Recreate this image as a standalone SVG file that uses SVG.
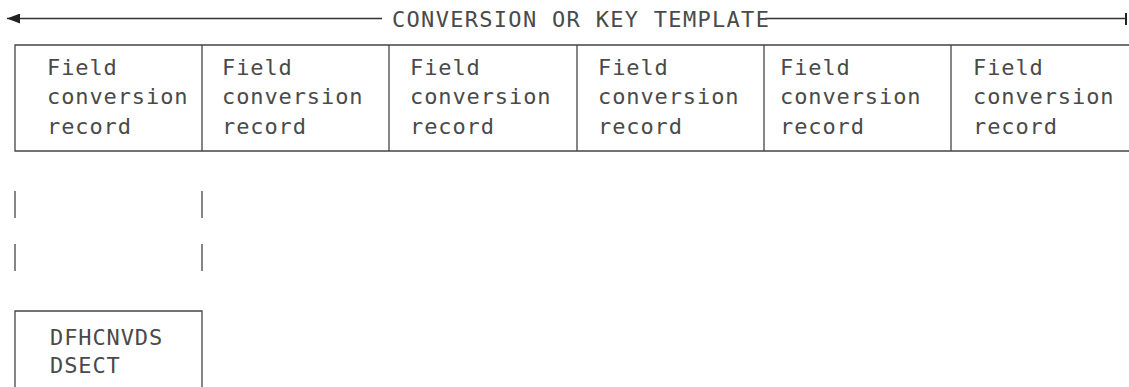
<svg xmlns="http://www.w3.org/2000/svg" width="1129" height="387" viewBox="0 0 1129 387">
<style>
.t{font-family:"DejaVu Sans Mono","Liberation Mono",monospace;font-size:22px;fill:#4a4a4a;letter-spacing:0.9px}
.tt{letter-spacing:1.3px}
.ln{stroke:#333;stroke-width:1.3;fill:none}
.bx{stroke:#444;stroke-width:1.3;fill:none}
</style>
<defs>
<marker id="ah" viewBox="0 0 13 10" refX="0" refY="5" markerWidth="13" markerHeight="10" markerUnits="userSpaceOnUse" orient="auto">
<path d="M0,5 L13,0 L13,10 Z" fill="#222"/>
</marker>
</defs>
<g id="connectors">
<line class="ln" x1="7" y1="18.5" x2="382" y2="18.5" marker-start="url(#ah)"/>
<line class="ln" x1="765" y1="18.5" x2="1126" y2="18.5"/>
<line stroke="#222" stroke-width="2" x1="1126" y1="13" x2="1126" y2="25"/>
<line class="bx" x1="15" y1="191" x2="15" y2="218"/>
<line class="bx" x1="202" y1="191" x2="202" y2="218"/>
<line class="bx" x1="15" y1="244" x2="15" y2="271"/>
<line class="bx" x1="202" y1="244" x2="202" y2="271"/>
</g>
<g id="title">
<text class="t tt" x="392" y="27">CONVERSION OR KEY TEMPLATE</text>
</g>
<g id="table">
<path class="bx" d="M1129,45 H15 V151 H1129"/>
<line class="bx" x1="202" y1="45" x2="202" y2="151"/>
<line class="bx" x1="389" y1="45" x2="389" y2="151"/>
<line class="bx" x1="577" y1="45" x2="577" y2="151"/>
<line class="bx" x1="764" y1="45" x2="764" y2="151"/>
<line class="bx" x1="951" y1="45" x2="951" y2="151"/>
</g>
<g id="rec1"><text class="t" x="47" y="75">Field</text><text class="t" x="47" y="104">conversion</text><text class="t" x="47" y="134">record</text></g>
<g id="rec2"><text class="t" x="222" y="75">Field</text><text class="t" x="222" y="104">conversion</text><text class="t" x="222" y="134">record</text></g>
<g id="rec3"><text class="t" x="410" y="75">Field</text><text class="t" x="410" y="104">conversion</text><text class="t" x="410" y="134">record</text></g>
<g id="rec4"><text class="t" x="598" y="75">Field</text><text class="t" x="598" y="104">conversion</text><text class="t" x="598" y="134">record</text></g>
<g id="rec5"><text class="t" x="780" y="75">Field</text><text class="t" x="780" y="104">conversion</text><text class="t" x="780" y="134">record</text></g>
<g id="rec6"><text class="t" x="973" y="75">Field</text><text class="t" x="973" y="104">conversion</text><text class="t" x="973" y="134">record</text></g>
<g id="dsect">
<path class="bx" d="M15,387 V311 H202 V387"/>
<text class="t" x="50" y="345">DFHCNVDS</text>
<text class="t" x="50" y="373">DSECT</text>
</g>
</svg>
